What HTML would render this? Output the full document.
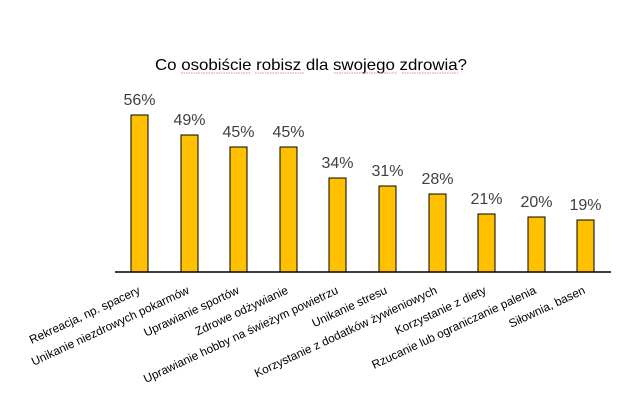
<!DOCTYPE html>
<html><head><meta charset="utf-8"><style>
html,body{margin:0;padding:0;background:#fff;}
svg{display:block;}
</style></head><body>
<svg width="642" height="406" viewBox="0 0 642 406" xmlns="http://www.w3.org/2000/svg" font-family="Liberation Sans, Arial, sans-serif">
<rect width="642" height="406" fill="#fff"/>
<text x="155" y="70" font-size="16" fill="#000" textLength="312" lengthAdjust="spacingAndGlyphs">Co osobiście robisz dla swojego zdrowia?</text>
<g stroke="#e06060" stroke-width="0.8" stroke-dasharray="1.5,1" fill="none">
<line x1="181" y1="73" x2="250" y2="73"/>
<line x1="255" y1="73" x2="305" y2="73"/>
<line x1="334" y1="73" x2="397" y2="73"/>
<line x1="402" y1="73" x2="458" y2="73"/>
</g>
<g fill="#ffc000" stroke="#000" stroke-width="1">
<rect x="131" y="115" width="17" height="157"/>
<rect x="181" y="135" width="17" height="137"/>
<rect x="230" y="147" width="17" height="125"/>
<rect x="280" y="147" width="17" height="125"/>
<rect x="329" y="178" width="17" height="94"/>
<rect x="379" y="186" width="17" height="86"/>
<rect x="429" y="194" width="17" height="78"/>
<rect x="478" y="214" width="17" height="58"/>
<rect x="528" y="217" width="17" height="55"/>
<rect x="577" y="220" width="17" height="52"/>
</g>
<line x1="115" y1="272" x2="611" y2="272" stroke="#000" stroke-width="1.5"/>
<g font-size="16" fill="#404040" text-anchor="middle">
<text x="139.5" y="105">56%</text>
<text x="189.5" y="125">49%</text>
<text x="238.5" y="137">45%</text>
<text x="288.5" y="137">45%</text>
<text x="337.5" y="168">34%</text>
<text x="387.5" y="176">31%</text>
<text x="437.5" y="184">28%</text>
<text x="486.5" y="204">21%</text>
<text x="536.5" y="207">20%</text>
<text x="585.5" y="210">19%</text>
</g>
<g font-size="11.8" fill="#000" text-anchor="end">
<text transform="translate(141,293) rotate(-25)">Rekreacja, np. spacery</text>
<text transform="translate(190,293) rotate(-25)">Unikanie niezdrowych pokarmów</text>
<text transform="translate(240,293) rotate(-25)">Uprawianie sportów</text>
<text transform="translate(289,293) rotate(-25)">Zdrowe odżywianie</text>
<text transform="translate(339,293) rotate(-25)">Uprawianie hobby  na świeżym powietrzu</text>
<text transform="translate(388,293) rotate(-25)">Unikanie stresu</text>
<text transform="translate(438,293) rotate(-25)">Korzystanie z dodatków żywieniowych</text>
<text transform="translate(487,293) rotate(-25)">Korzystanie z diety</text>
<text transform="translate(537,293) rotate(-25)">Rzucanie lub ograniczanie palenia</text>
<text transform="translate(586,293) rotate(-25)">Siłownia, basen</text>
</g>
</svg>
</body></html>
